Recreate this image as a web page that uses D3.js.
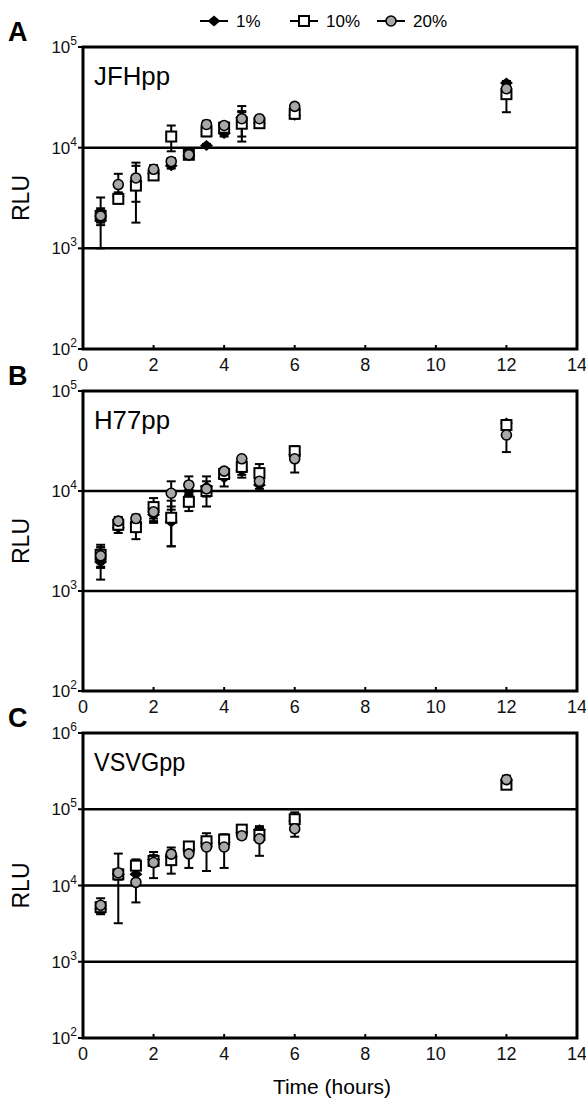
<!DOCTYPE html>
<html><head><meta charset="utf-8">
<script src="https://cdn.jsdelivr.net/npm/d3@7"></script>
<style>body{margin:0;background:#fff}svg{display:block}text{font-family:Arial,"Liberation Sans",sans-serif}</style>
</head><body>
<script>
// ---- data ----
const times = [0.5, 1, 1.5, 2, 2.5, 3, 3.5, 4, 4.5, 5, 6, 12];
const seriesNames = ["1%", "10%", "20%"];
const xTicks = [0, 2, 4, 6, 8, 10, 12, 14];
const panelLetters = ["A", "B", "C"];
const panelTitles = ["JFHpp", "H77pp", "VSVGpp"];
const yExpA = [2, 3, 4, 5];
const yExpB = [2, 3, 4, 5];
const yExpC = [2, 3, 4, 5, 6];

const jfh1   = [2100, 3300, 4600, 5500, 6600, 8300, 10500, 13800, 20000, 17500, 21000, 44000];
const jfh1E  = [300, 300, 400, 400, 400, 300, 400, 900, 2500, 1000, 1500, 2000];
const jfh10  = [2100, 3100, 4200, 5300, 12900, 8500, 14500, 15800, 17300, 17500, 21700, 34000];
const jfh10E = [400, 300, 2400, 500, 3700, 300, 1500, 1500, 5800, 1000, 1500, 11500];
const jfh20  = [2100, 4300, 5000, 6100, 7300, 8500, 17000, 16600, 19400, 19400, 25700, 38500];
const jfh20E = [1100, 1200, 2100, 600, 600, 400, 1500, 1200, 6500, 1000, 1500, 4000];

const h771   = [1950, 4300, 4700, 5800, 4900, 10000, 11000, 13600, 16000, 11500, 23000, 48000];
const h771E  = [650, 500, 400, 800, 2100, 1000, 1500, 2500, 1500, 1000, 2000, 3000];
const h7710  = [2300, 4600, 4350, 6900, 5400, 7800, 10000, 14800, 17400, 15100, 25000, 45700];
const h7710E = [600, 500, 1050, 1600, 2600, 1500, 1200, 1200, 3800, 3500, 3000, 5000];
const h7720  = [2250, 5000, 5300, 6200, 9500, 11500, 10500, 15800, 21000, 12500, 21000, 36300];
const h7720E = [500, 500, 500, 1400, 3000, 2500, 3500, 1000, 1000, 1000, 5700, 11800];

const vsv1   = [4900, 14000, 14000, 22000, 24000, 30000, 36000, 37000, 50000, 54000, 70000, 240000];
const vsv1E  = [500, 2000, 2000, 3000, 3000, 3000, 4000, 4000, 4000, 6000, 8000, 20000];
const vsv10  = [5200, 14000, 18200, 21000, 21500, 32500, 38000, 40000, 54000, 46000, 74000, 210000];
const vsv10E = [600, 2000, 3800, 3000, 7200, 3000, 5500, 4000, 4000, 8000, 17000, 20000];
const vsv20  = [5500, 14700, 11000, 20000, 25800, 26000, 32000, 32000, 45000, 41000, 55600, 245000];
const vsv20E = [1300, 11500, 5000, 7500, 5700, 9000, 16500, 15000, 4000, 16500, 12000, 30000];

// ---- layout ----
const W = 586, H = 1100;
const left = 83, right = 577;
const panels = [
  {top: 47, bottom: 349, exps: yExpA, vals: [jfh1, jfh10, jfh20], errs: [jfh1E, jfh10E, jfh20E]},
  {top: 391, bottom: 691, exps: yExpB, vals: [h771, h7710, h7720], errs: [h771E, h7710E, h7720E]},
  {top: 733, bottom: 1038, exps: yExpC, vals: [vsv1, vsv10, vsv20], errs: [vsv1E, vsv10E, vsv20E]}
];

const svg = d3.select("body").append("svg").attr("width", W).attr("height", H);
const x = d3.scaleLinear().domain([0, 14]).range([left, right]);

function marker(g, type) {
  if (type === 0) {
    g.append("path").attr("d", "M-6.5,0L0,-5.5L6.5,0L0,5.5Z").attr("fill", "#000");
  } else if (type === 1) {
    g.append("rect").attr("x", -5).attr("y", -5).attr("width", 10).attr("height", 10)
      .attr("fill", "#fff").attr("stroke", "#000").attr("stroke-width", 2);
  } else {
    g.append("circle").attr("r", 5).attr("fill", "#a8a8a8").attr("stroke", "#000").attr("stroke-width", 1.6);
  }
}

panels.forEach((p, i) => {
  const lo = Math.pow(10, p.exps[0]), hi = Math.pow(10, p.exps[p.exps.length - 1]);
  const y = d3.scaleLog().domain([lo, hi]).range([p.bottom, p.top]);
  const g = svg.append("g");

  // gridlines at inner decades
  p.exps.slice(1, -1).forEach(e => {
    g.append("line").attr("x1", left).attr("x2", right)
      .attr("y1", y(Math.pow(10, e))).attr("y2", y(Math.pow(10, e)))
      .attr("stroke", "#000").attr("stroke-width", 2.5);
  });

  // y axis ticks + labels
  p.exps.forEach(e => {
    const yy = y(Math.pow(10, e));
    g.append("line").attr("x1", left - 5).attr("x2", left).attr("y1", yy).attr("y2", yy)
      .attr("stroke", "#000").attr("stroke-width", 2);
    const t = g.append("text").attr("x", 77).attr("y", yy + 6).attr("text-anchor", "end")
      .attr("font-size", 17).attr("fill", "#111");
    t.append("tspan").text("10");
    t.append("tspan").attr("font-size", 12).attr("dy", -8).text(String(e));
  });

  // x ticks + labels
  xTicks.forEach(v => {
    g.append("line").attr("x1", x(v)).attr("x2", x(v)).attr("y1", p.bottom).attr("y2", p.bottom - 4)
      .attr("stroke", "#000").attr("stroke-width", 2);
    g.append("text").attr("x", x(v)).attr("y", p.bottom + 22).attr("text-anchor", "middle")
      .attr("font-size", 18).attr("fill", "#111").text(v);
  });

  // frame
  g.append("rect").attr("x", left).attr("y", p.top).attr("width", right - left).attr("height", p.bottom - p.top)
    .attr("fill", "none").attr("stroke", "#000").attr("stroke-width", 3);

  // panel letter & title
  g.append("text").attr("x", 8).attr("y", p.top - 6).attr("font-size", 27).attr("font-weight", "bold")
    .text(panelLetters[i]);
  g.append("text").attr("x", 94).attr("y", p.top + 38).attr("font-size", 25)
    .attr("textLength", panelTitles[i].length * 15.2).attr("lengthAdjust", "spacingAndGlyphs")
    .text(panelTitles[i]);

  // RLU label
  g.append("text").attr("transform", `translate(29,${(p.top + p.bottom) / 2}) rotate(-90)`)
    .attr("text-anchor", "middle").attr("font-size", 23).text("RLU");

  // error bars
  p.vals.forEach((vals, s) => {
    const errs = p.errs[s];
    times.forEach((t, k) => {
      const v = vals[k], e = errs[k];
      const y1 = y(Math.min(hi, v + e)), y0 = y(Math.max(lo, v - e));
      const xx = x(t);
      g.append("line").attr("x1", xx).attr("x2", xx).attr("y1", y0).attr("y2", y1)
        .attr("stroke", "#000").attr("stroke-width", 2);
      [y0, y1].forEach(yc => g.append("line").attr("x1", xx - 4.5).attr("x2", xx + 4.5)
        .attr("y1", yc).attr("y2", yc).attr("stroke", "#000").attr("stroke-width", 2));
    });
  });

  // markers
  p.vals.forEach((vals, s) => {
    times.forEach((t, k) => {
      const mg = g.append("g").attr("transform", `translate(${x(t)},${y(vals[k])})`);
      marker(mg, s);
    });
  });
});

// x axis title
svg.append("text").attr("x", 332).attr("y", 1094).attr("text-anchor", "middle")
  .attr("font-size", 21).text("Time (hours)");

// legend
const legendX = [214, 304, 391];
seriesNames.forEach((n, s) => {
  const lg = svg.append("g").attr("transform", `translate(${legendX[s]},21)`);
  lg.append("line").attr("x1", -14).attr("x2", 14).attr("stroke", "#000").attr("stroke-width", 2);
  marker(lg, s);
  lg.append("text").attr("x", 22).attr("y", 6).attr("font-size", 17).text(n);
});
</script>
</body></html>
